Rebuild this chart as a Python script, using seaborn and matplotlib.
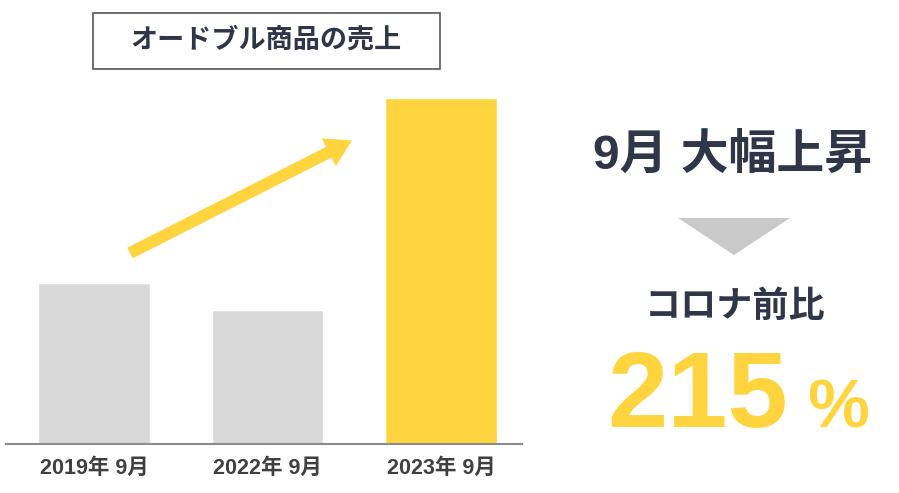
import numpy as np
import matplotlib
matplotlib.use("Agg")
import matplotlib.pyplot as plt
from matplotlib.patches import FancyArrow, Polygon, Rectangle
import pandas as pd
import seaborn as sns

# データ
categories = ["2019年 9月", "2022年 9月", "2023年 9月"]
sales = [100, 83, 215]
bar_colors = ["#D9D9D9", "#D9D9D9", "#FFD43F"]
title_text = "オードブル商品の売上"
headline = "9月 大幅上昇"
compare_label = "コロナ前比"
ratio_value = "215"

YELLOW = "#FFD43F"
NAVY = "#2E3648"
FONTS = ["Liberation Sans", "Noto Sans CJK JP", "DejaVu Sans"]

sns.set_theme(style="white")
plt.rcParams["font.family"] = FONTS

W, H = 899, 493
fig = plt.figure(figsize=(W / 100, H / 100), dpi=100)

# 棒グラフの領域（ピクセル位置から）
ax_l, ax_r, ax_b, ax_t = 6, 522, 444, 80
ax = fig.add_axes([ax_l / W, 1 - ax_b / H, (ax_r - ax_l) / W, (ax_b - ax_t) / H])

df = pd.DataFrame({"cat": categories, "val": sales})
sns.barplot(data=df, x="cat", y="val", hue="cat", palette=bar_colors,
            legend=False, width=0.645, saturation=1, ax=ax)

spacing = 173.5
c0 = 94
ax.set_xlim((ax_l - c0) / spacing, (ax_r - c0) / spacing)
px_per_unit = (444 - 98) / 215
ax.set_ylim(0, (ax_b - ax_t) / px_per_unit)
ax.set_xlabel("")
ax.set_ylabel("")
ax.set_yticks([])
for s in ["top", "left", "right"]:
    ax.spines[s].set_visible(False)
ax.spines["bottom"].set_color("#8C8C8C")
ax.spines["bottom"].set_linewidth(1.5)
ax.tick_params(axis="x", length=0, pad=10, labelsize=15.5, labelcolor="#404040")
for lab in ax.get_xticklabels():
    lab.set_fontweight("bold")
    lab.set_family(FONTS)

# 注釈用オーバーレイ（ピクセル座標）
ov = fig.add_axes([0, 0, 1, 1], zorder=5)
ov.set_xlim(0, W)
ov.set_ylim(H, 0)
ov.axis("off")
ov.patch.set_alpha(0)

# タイトルボックス
ov.add_patch(Rectangle((93, 13), 347, 56, fill=False, edgecolor="#595959", linewidth=1.2))
ov.text(266, 41, title_text, ha="center", va="center", fontsize=19.5,
        fontweight="bold", color=NAVY, family=FONTS)

# 上昇矢印
x0, y0, x1, y1 = 130, 253, 352, 140.5
ov.add_patch(FancyArrow(x0, y0, x1 - x0, y1 - y0, width=12, head_width=31,
                        head_length=26, length_includes_head=True,
                        color=YELLOW, linewidth=0))

# 右側のテキスト
ov.text(733, 156, headline, ha="center", va="center", fontsize=34.5,
        fontweight="bold", color=NAVY, family=FONTS)
ov.add_patch(Polygon([[678, 218], [790, 218], [734, 255]], closed=True,
                     facecolor="#C9C9C9", edgecolor="none"))
ov.text(735, 307, compare_label, ha="center", va="center", fontsize=26,
        fontweight="bold", color=NAVY, family=FONTS)
ov.text(788, 427, ratio_value, ha="right", va="baseline", fontsize=78,
        fontweight="bold", color=YELLOW, family=FONTS)
ov.text(807, 427, "%", ha="left", va="baseline", fontsize=50,
        fontweight="bold", color=YELLOW, family=FONTS)

fig.savefig("out.png", dpi=100)
